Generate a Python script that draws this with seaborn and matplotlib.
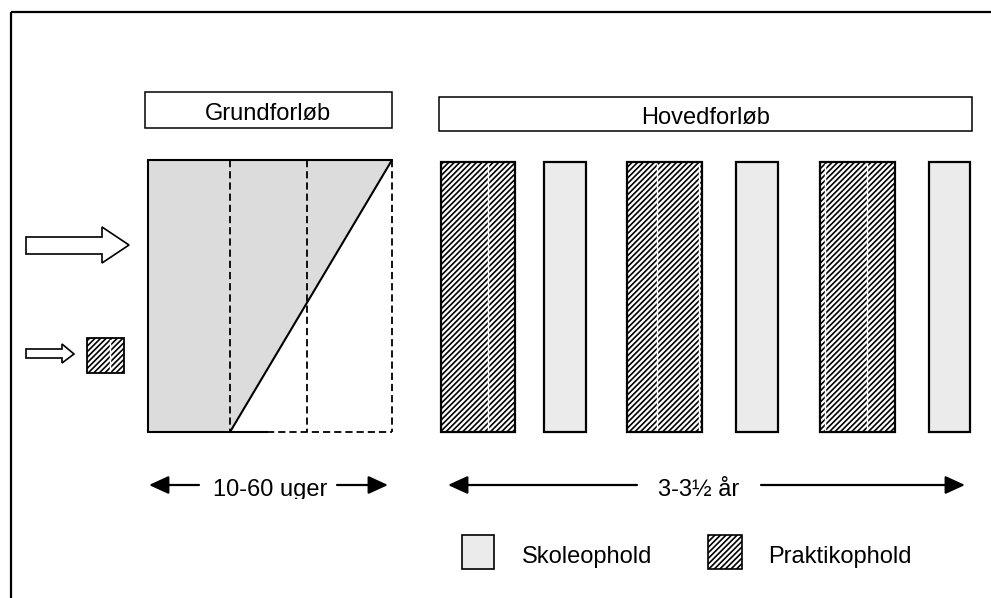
import matplotlib
matplotlib.use("Agg")
import matplotlib.pyplot as plt
import seaborn as sns
from matplotlib.patches import Polygon, Rectangle

sns.set_theme(style="white")
plt.rcParams["font.family"] = ["Liberation Sans", "DejaVu Sans"]
plt.rcParams["hatch.linewidth"] = 1.2
plt.rcParams["text.color"] = "black"

# ---- data (categories / labels) ----
phase_titles = ["Grundforløb", "Hovedforløb"]
hoved_blocks = ["Praktikophold", "Skoleophold", "Praktikophold",
                "Skoleophold", "Praktikophold", "Skoleophold"]
duration_labels = ["10-60 uger", "3-3½ år"]
legend_labels = ["Skoleophold", "Praktikophold"]

# ---- layout (pixel coordinates) ----
block_left = [441, 544, 627, 736, 820, 929]
block_right = [515, 586, 702, 778, 895, 970]
block_top, block_bottom = 162, 432
white_seams = {0: [488], 2: [657, 699], 4: [825, 867]}

FS = 17
SKOLE = "#ebebeb"
GRUND = "#dcdcdc"
HATCH = "//////"

fig = plt.figure(figsize=(9.91, 5.98), dpi=100)
ax = fig.add_axes([0, 0, 1, 1])
ax.set_xlim(0, 991)
ax.set_ylim(598, 0)
ax.axis("off")

# outer frame (left + top)
ax.plot([11, 11], [598, 12], color="black", lw=1.6, solid_capstyle="butt")
ax.plot([11, 991], [12, 12], color="black", lw=1.6, solid_capstyle="butt")

# title boxes
ax.add_patch(Rectangle((145, 92), 247, 36, fc="white", ec="black", lw=1.1))
ax.text(268, 120, phase_titles[0], fontsize=FS, ha="center", va="baseline", color="black")
ax.add_patch(Rectangle((439, 97), 533, 34, fc="white", ec="black", lw=1.1))
ax.text(706, 124, phase_titles[1], fontsize=FS, ha="center", va="baseline", color="black")

# Grundforløb block
gx0, gx1, gy0, gy1 = 148, 392, 160, 432
ax.add_patch(Polygon([(gx0, gy0), (gx1, gy0), (230, gy1), (gx0, gy1)],
                     closed=True, fc=GRUND, ec="none"))
ax.plot([gx0, gx1], [gy0, gy0], color="black", lw=1.5)
ax.plot([gx0, gx0], [gy0, gy1], color="black", lw=1.5)
ax.plot([gx0, 267], [gy1, gy1], color="black", lw=1.5)
ax.plot([267, gx1], [gy1, gy1], color="black", lw=1.3, ls=(0, (4, 2.2)))
for xv in (230, 307, gx1):
    ax.plot([xv, xv], [gy0, gy1], color="black", lw=1.3, ls=(0, (4, 2.2)))
ax.plot([230, gx1], [gy1, gy0], color="black", lw=1.5)

# Hovedforløb blocks
for i, kind in enumerate(hoved_blocks):
    w = block_right[i] - block_left[i]
    if kind == "Praktikophold":
        ax.bar(block_left[i], block_bottom - block_top, width=w, bottom=block_top,
               align="edge", color="white", edgecolor="black", hatch=HATCH, lw=1.6)
    else:
        ax.bar(block_left[i], block_bottom - block_top, width=w, bottom=block_top,
               align="edge", color=SKOLE, edgecolor="black", lw=1.6)
for i, xs in white_seams.items():
    for xv in xs:
        ax.plot([xv, xv], [block_top + 2, block_bottom - 2], color="white", lw=1.0)

# left outline arrows
big = [(26, 237), (102, 237), (102, 227), (129, 245), (102, 263), (102, 254), (26, 254)]
ax.add_patch(Polygon(big, closed=True, fc="white", ec="black", lw=1.2))
small = [(26, 349), (62, 349), (62, 344), (74, 354), (62, 363), (62, 358), (26, 358)]
ax.add_patch(Polygon(small, closed=True, fc="white", ec="black", lw=1.2))
ax.add_patch(Rectangle((87, 338), 37, 35, fc="white", ec="black", hatch=HATCH, lw=1.3))
ax.plot([110, 110], [340, 371], color="white", lw=1.0)

# duration arrows
ap = dict(arrowstyle="-|>,head_length=1.2,head_width=0.55", color="black",
          lw=1.6, mutation_scale=10, shrinkA=0, shrinkB=0)
ay = 485
for (x_from, x_to) in [(199, 149), (337, 388), (637, 448), (761, 965)]:
    ax.annotate("", xy=(x_to, ay), xytext=(x_from, ay), arrowprops=ap)
ax.text(270, 496, duration_labels[0], fontsize=FS, ha="center", va="baseline", color="black")
ax.add_patch(Rectangle((205, 499), 135, 14, fc="white", ec="none", zorder=5))
ax.text(699, 496, duration_labels[1], fontsize=FS, ha="center", va="baseline", color="black")

# legend
ax.add_patch(Rectangle((462, 535), 32, 34, fc=SKOLE, ec="black", lw=1.2))
ax.text(522, 563, legend_labels[0], fontsize=FS, ha="left", va="baseline", color="black")
ax.add_patch(Rectangle((708, 535), 34, 34, fc="white", ec="black", hatch=HATCH, lw=1.2))
ax.text(768, 563, legend_labels[1], fontsize=FS, ha="left", va="baseline", color="black")

fig.savefig("out.png", dpi=100)
